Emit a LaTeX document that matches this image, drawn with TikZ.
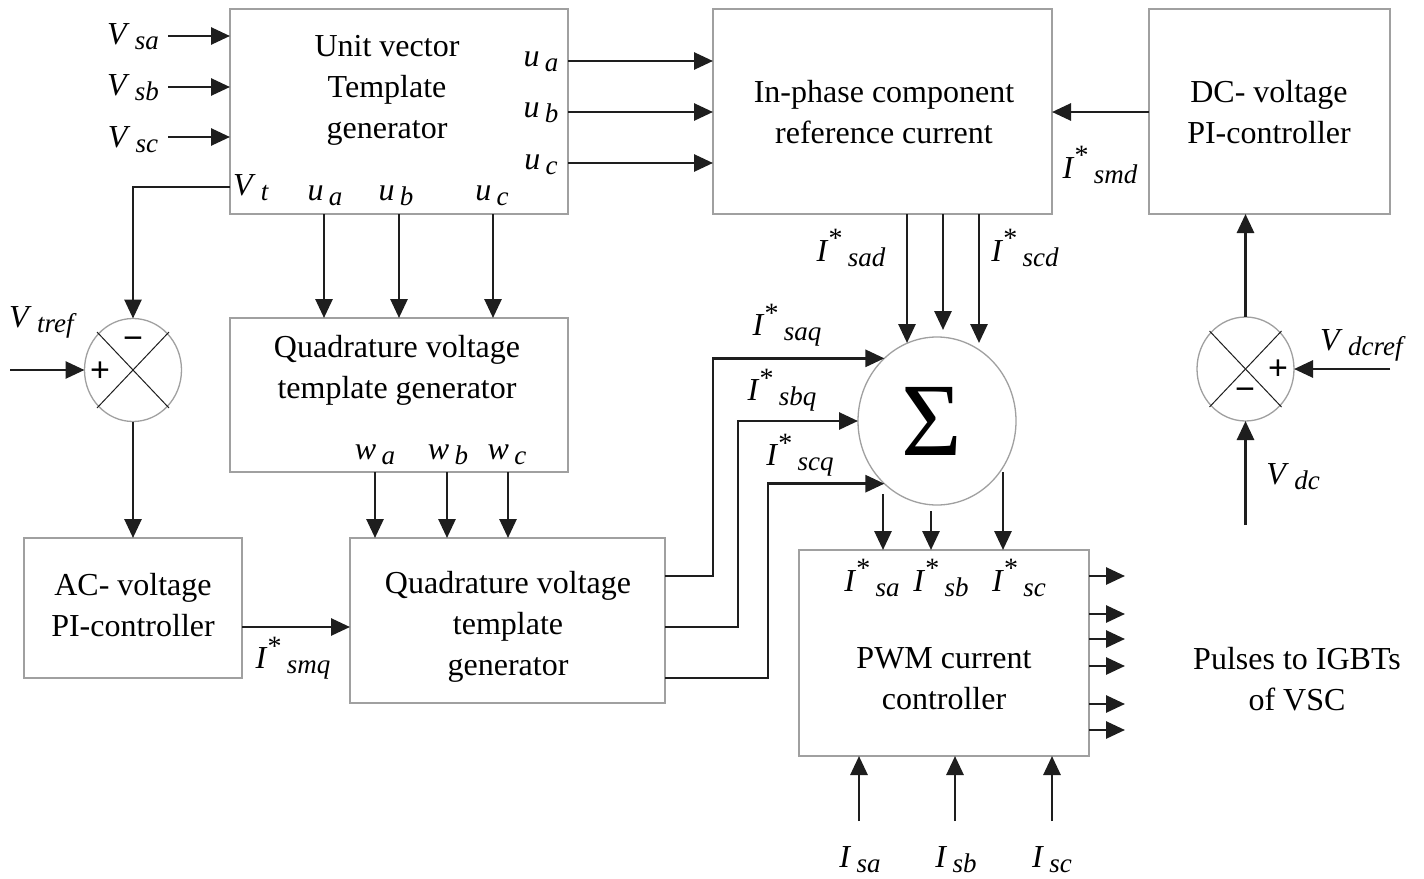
\documentclass[tikz,border=0pt]{standalone}
\usepackage{fontspec}
\setmainfont{Liberation Serif}
\newfontfamily\sansf{Liberation Sans}
\usetikzlibrary{arrows.meta,shapes.geometric}
\definecolor{ln}{HTML}{1E1E1E}
\definecolor{bx}{HTML}{A0A0A0}
\newcommand{\subl}[2]{\textit{#1}\,\raisebox{-0.35ex}{\fontsize{27}{27}\selectfont\textit{#2}}}
\newcommand{\starl}[1]{\textit{I}\raisebox{0.9ex}{\fontsize{28}{28}\selectfont *}\,\raisebox{-0.35ex}{\fontsize{27}{27}\selectfont\textit{#1}}}
\begin{document}
\begin{tikzpicture}[x=1pt,y=-1pt,
  box/.style={draw=bx,line width=1.3pt,rectangle,inner sep=0,outer sep=0},
  circ/.style={draw=bx,line width=1.3pt,ellipse,inner sep=0,outer sep=0},
  txt/.style={align=center,inner sep=0,font=\fontsize{32}{41}\selectfont},
  lab/.style={inner sep=0,font=\fontsize{32}{32}\selectfont},
  sgn/.style={inner sep=0,font=\sansf\fontsize{34}{34}\selectfont},
  arr/.style={draw=ln,line width=2.8pt,-{Triangle[length=19pt,width=17pt]}},
  wire/.style={draw=ln,line width=2.8pt},
  xl/.style={draw=ln,line width=1pt}]
\useasboundingbox (0,0) rectangle (1424,878);
\fill[white] (0,0) rectangle (1424,878);

% boxes
\node[box,minimum width=338pt,minimum height=205pt] (unit) at (399,111.5) {};
\node[box,minimum width=339pt,minimum height=205pt] (inph) at (882.5,111.5) {};
\node[box,minimum width=241pt,minimum height=205pt] (dcpi) at (1269.5,111.5) {};
\node[box,minimum width=338pt,minimum height=154pt] (quad1) at (399,395) {};
\node[box,minimum width=315pt,minimum height=165pt] (quad2) at (507.5,620.5) {};
\node[box,minimum width=218pt,minimum height=140pt] (acpi) at (133,608) {};
\node[box,minimum width=290pt,minimum height=206pt] (pwm) at (944,653) {};

% circles
\node[circ,minimum width=97pt,minimum height=103pt] (cl) at (133,370) {};
\node[circ,minimum width=158pt,minimum height=168pt] (sig) at (937,421) {};
\node[circ,minimum width=97pt,minimum height=104pt] (cr) at (1245.5,369) {};

% box texts
\node[txt] (tunit) at (387,90) {Unit vector\\Template\\generator};
\node[txt] (tinph) at (884,112) {In-phase component\\reference current};
\node[txt] (tdc) at (1269,112) {DC- voltage\\PI-controller};
\node[txt] (tq1) at (397,370) {Quadrature voltage\\template generator};
\node[txt] (tq2) at (508,627) {Quadrature voltage\\template\\generator};
\node[txt] (tac) at (133,605) {AC- voltage\\PI-controller};
\node[txt] (tpwm) at (944,679) {PWM current\\controller};
\node[txt] (tpul) at (1297,679) {Pulses to IGBTs\\of VSC};
\node[inner sep=0,font=\fontsize{104}{104}\selectfont] (tsig) at (932,421) {Σ};

% signs and crosses in comparators
\draw[xl] (cl.center) ++(-36,-38) -- ++(72,76);
\draw[xl] (cl.center) ++(36,-38) -- ++(-72,76);
\draw[xl] (cr.center) ++(-36,-38) -- ++(72,76);
\draw[xl] (cr.center) ++(36,-38) -- ++(-72,76);
\node[sgn] (lm) at (133,343) {−};
\node[sgn] (lp) at (100,372) {+};
\node[sgn] (rp) at (1278,370) {+};
\node[sgn] (rm) at (1245,394) {−};

% labels
\node[lab] (lvsa) at (133,37) {\subl{V}{sa}};
\node[lab] (lvsb) at (133,88) {\subl{V}{sb}};
\node[lab] (lvsc) at (133,140) {\subl{V}{sc}};
\node[lab] (lua) at (541,62) {\subl{u}{a}};
\node[lab] (lub) at (541,113) {\subl{u}{b}};
\node[lab] (luc) at (541,165) {\subl{u}{c}};
\node[lab] (lvt) at (251,188) {\subl{V}{t}};
\node[lab] (lua2) at (325,196) {\subl{u}{a}};
\node[lab] (lub2) at (396,196) {\subl{u}{b}};
\node[lab] (luc2) at (492,196) {\subl{u}{c}};
\node[lab] (lvtref) at (43,322) {\subl{V}{tref}};
\node[lab] (lwa) at (375,455) {\subl{w}{a}};
\node[lab] (lwb) at (448,455) {\subl{w}{b}};
\node[lab] (lwc) at (507,455) {\subl{w}{c}};
\node[lab] (lsmq) at (293,658) {\starl{smq}};
\node[lab] (lsad) at (851,248) {\starl{sad}};
\node[lab] (lscd) at (1025,248) {\starl{scd}};
\node[lab] (lsaq) at (787,325) {\starl{saq}};
\node[lab] (lsbq) at (782,390) {\starl{sbq}};
\node[lab] (lscq) at (800,455) {\starl{scq}};
\node[lab] (lsmd) at (1100,165) {\starl{smd}};
\node[lab] (lsa) at (872,578) {\starl{sa}};
\node[lab] (lsb) at (941,578) {\starl{sb}};
\node[lab] (lsc) at (1019,578) {\starl{sc}};
\node[lab] (lvdcref) at (1363,345) {\subl{V}{dcref}};
\node[lab] (lvdc) at (1293,477) {\subl{V}{dc}};
\node[lab] (lisa) at (860,860) {\subl{I}{sa}};
\node[lab] (lisb) at (956,860) {\subl{I}{sb}};
\node[lab] (lisc) at (1052,860) {\subl{I}{sc}};

% helper coordinates
\coordinate (vsa0) at (168,36);
\coordinate (vsb0) at (168,87);
\coordinate (vsc0) at (168,137);
\coordinate (ya) at (0,61);
\coordinate (yb) at (0,112);
\coordinate (yc) at (0,163);
\coordinate (yvt) at (0,187);
\coordinate (xu1) at (324,0);
\coordinate (xu2) at (399,0);
\coordinate (xu3) at (493,0);
\coordinate (xw1) at (375,0);
\coordinate (xw2) at (447,0);
\coordinate (xw3) at (508,0);
\coordinate (vtin) at (10,370);
\coordinate (yac) at (0,627);
\coordinate (yq1) at (0,576);
\coordinate (yq3) at (0,678);
\coordinate (x713) at (713,0);
\coordinate (x738) at (738,0);
\coordinate (x768) at (768,0);
\coordinate (t1) at (907,343);
\coordinate (t2) at (943,330);
\coordinate (t3) at (979,343);
\coordinate (s1) at (883,494);
\coordinate (s2) at (931,511);
\coordinate (s3) at (1003,472);
\coordinate (xout) at (1125,0);
\coordinate (i1) at (859,821);
\coordinate (i2) at (955,821);
\coordinate (i3) at (1052,821);
\coordinate (vdcrefin) at (1390,369);
\coordinate (vdcin) at (1245.5,525);

% inputs of unit vector generator
\draw[arr] (vsa0) -- (vsa0 -| unit.west);
\draw[arr] (vsb0) -- (vsb0 -| unit.west);
\draw[arr] (vsc0) -- (vsc0 -| unit.west);
% unit vectors to in-phase block
\draw[arr] (unit.east |- ya) -- (inph.west |- ya);
\draw[arr] (unit.east |- yb) -- (inph.west |- yb);
\draw[arr] (unit.east |- yc) -- (inph.west |- yc);
% Vt to comparator
\draw[arr] (unit.west |- yvt) -| (cl.north);
% unit vectors down
\draw[arr] (unit.south -| xu1) -- (quad1.north -| xu1);
\draw[arr] (unit.south -| xu2) -- (quad1.north -| xu2);
\draw[arr] (unit.south -| xu3) -- (quad1.north -| xu3);
% w vectors
\draw[arr] (quad1.south -| xw1) -- (quad2.north -| xw1);
\draw[arr] (quad1.south -| xw2) -- (quad2.north -| xw2);
\draw[arr] (quad1.south -| xw3) -- (quad2.north -| xw3);
% left comparator
\draw[arr] (vtin) -- (cl.west);
\draw[arr] (cl.south) -- (acpi.north);
\draw[arr] (acpi.east |- yac) -- (quad2.west |- yac);
% quadrature currents to sigma
\draw[arr] (quad2.east |- yq1) -| (x713 |- sig.130) -- (sig.130);
\draw[arr] (quad2.east |- yac) -| (x738 |- sig.west) -- (sig.west);
\draw[arr] (quad2.east |- yq3) -| (x768 |- sig.230) -- (sig.230);
% in-phase currents to sigma
\draw[arr] (inph.south -| t1) -- (t1);
\draw[arr] (inph.south -| t2) -- (t2);
\draw[arr] (inph.south -| t3) -- (t3);
% sigma to PWM
\draw[arr] (s1) -- (s1 |- pwm.north);
\draw[arr] (s2) -- (s2 |- pwm.north);
\draw[arr] (s3) -- (s3 |- pwm.north);
% PWM outputs
\foreach \yy [count=\k] in {576,614,639,666,704,730}{
  \coordinate (po\k) at (0,\yy);
  \draw[arr] (pwm.east |- po\k) -- (xout |- po\k);
}
% measured currents
\draw[arr] (i1) -- (i1 |- pwm.south);
\draw[arr] (i2) -- (i2 |- pwm.south);
\draw[arr] (i3) -- (i3 |- pwm.south);
% DC side
\draw[arr] (dcpi.west |- yb) -- (inph.east |- yb);
\draw[arr] (cr.north) -- (cr.north |- dcpi.south);
\draw[arr] (vdcrefin) -- (cr.east);
\draw[arr] (vdcin) -- (cr.south);
\end{tikzpicture}
\end{document}
